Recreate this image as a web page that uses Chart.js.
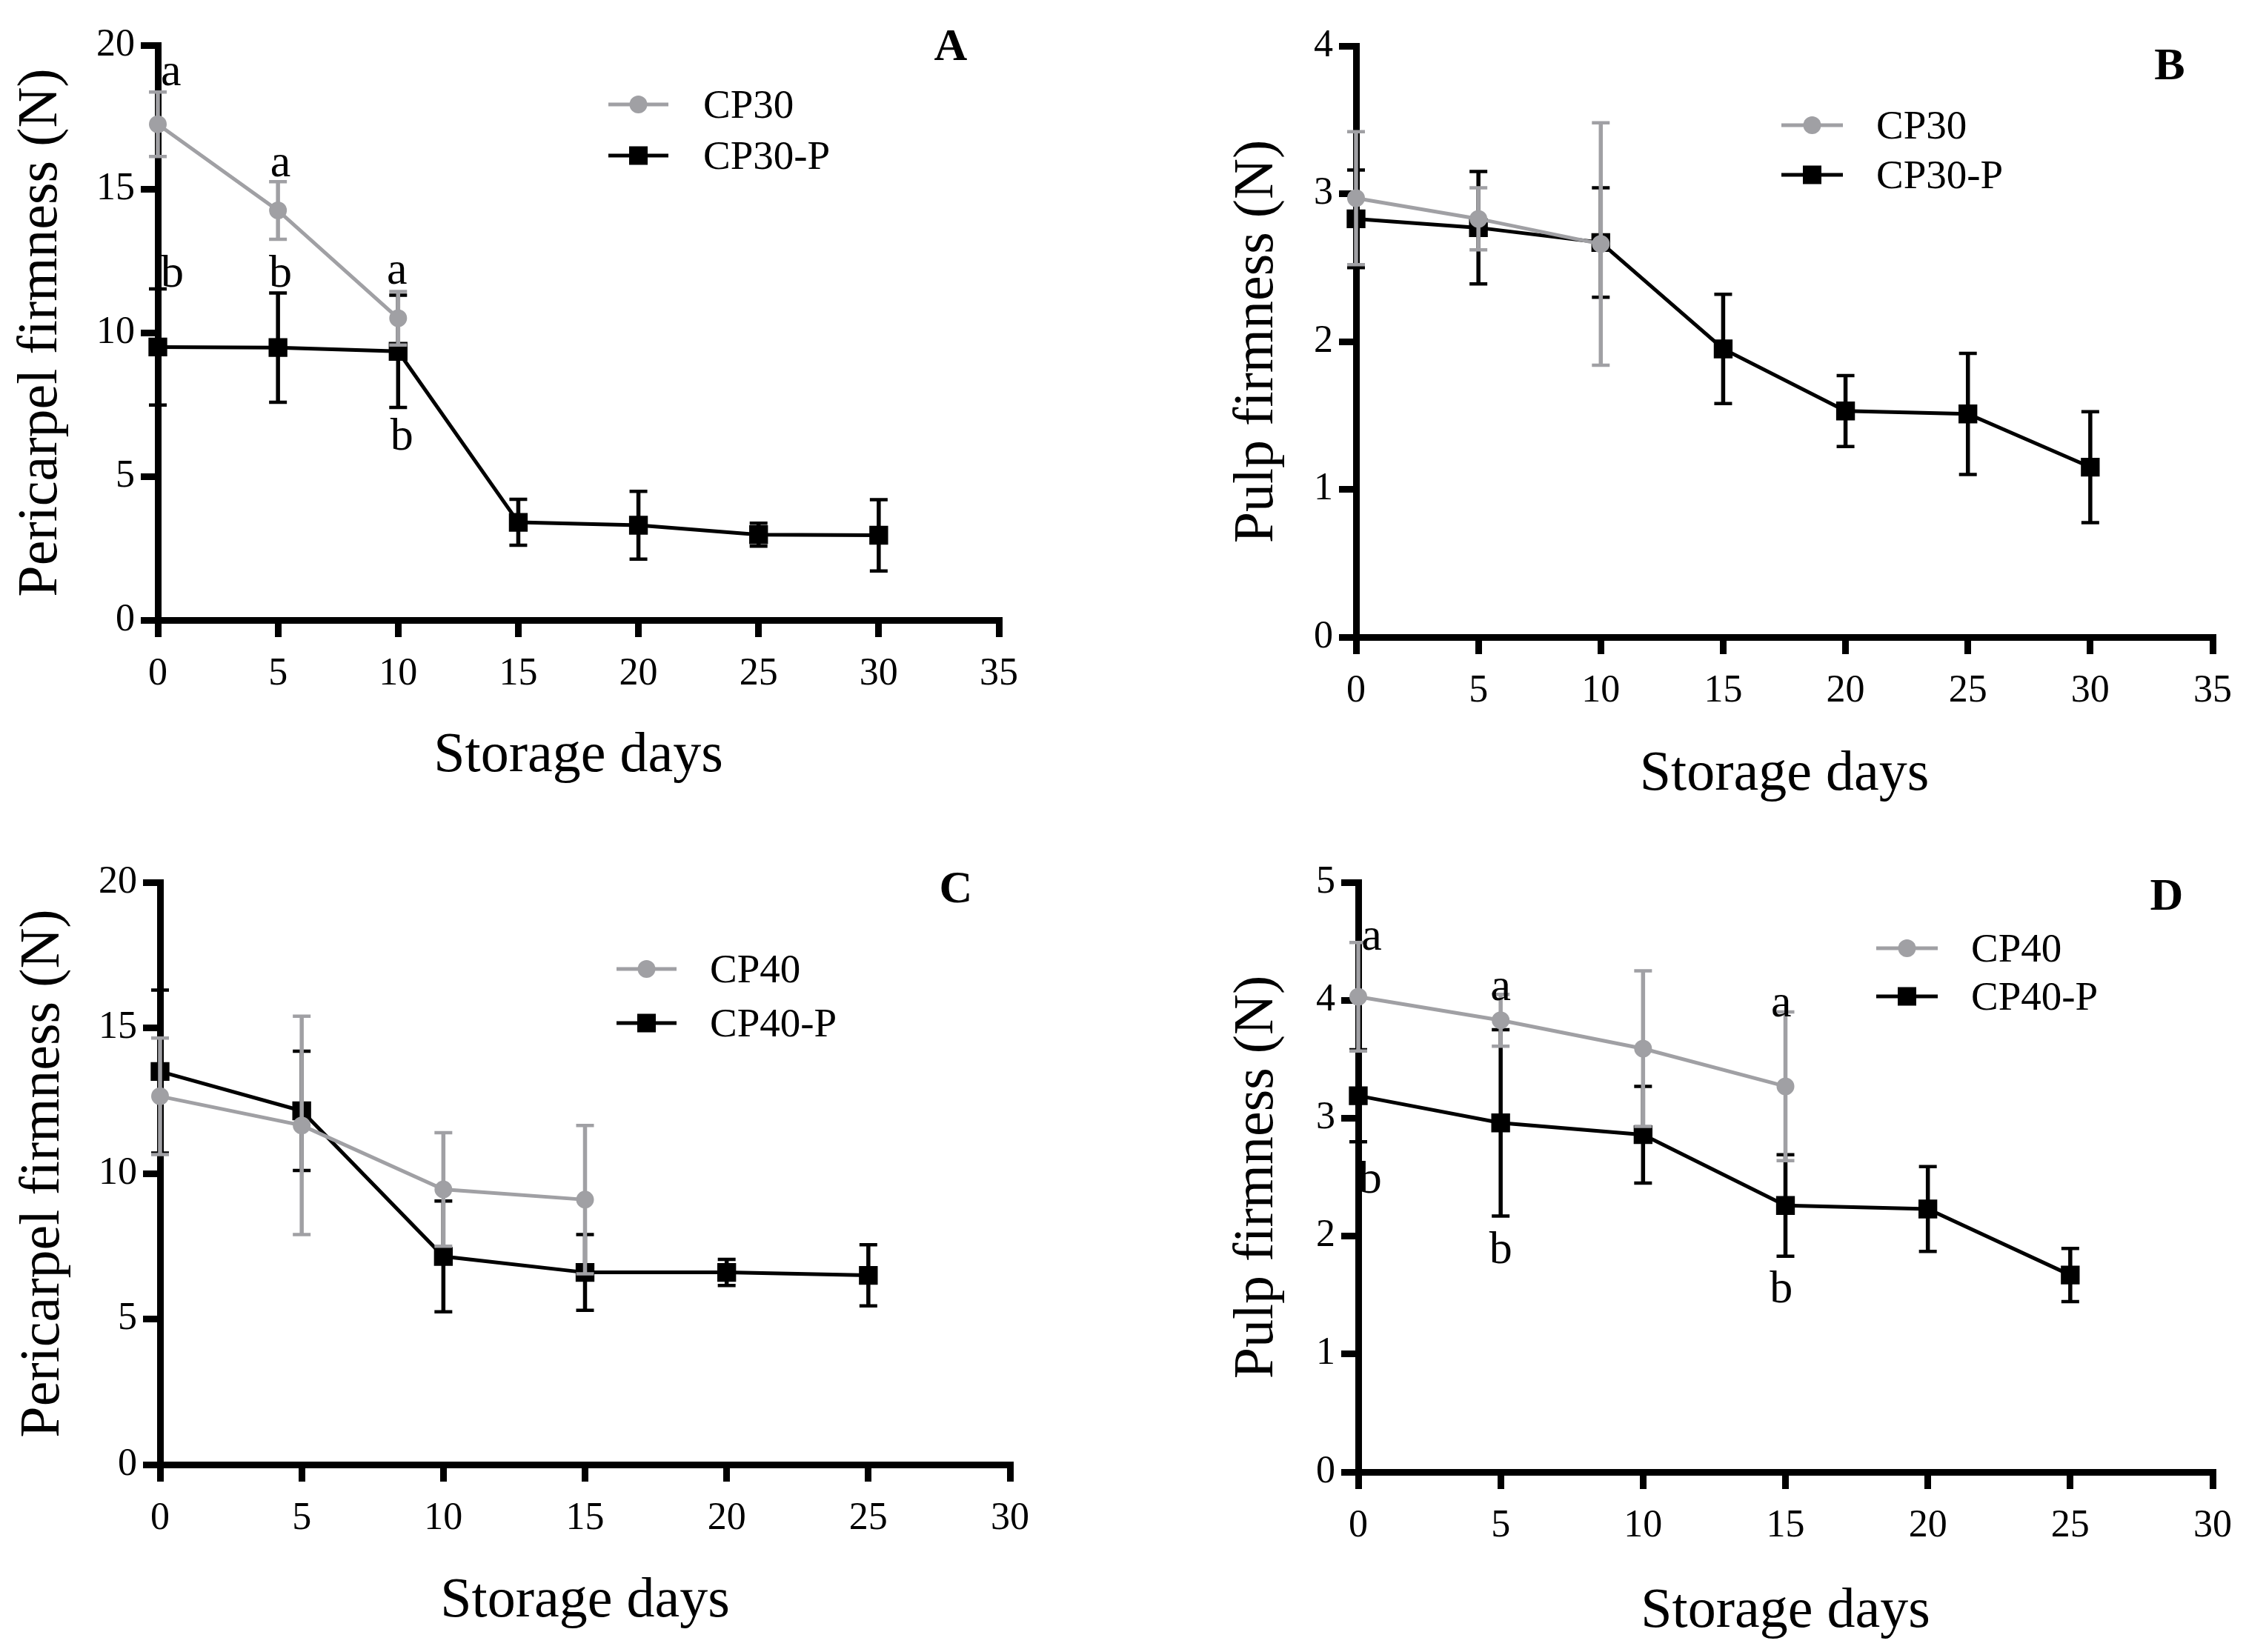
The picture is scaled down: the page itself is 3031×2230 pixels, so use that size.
<!DOCTYPE html>
<html><head><meta charset="utf-8">
<script src="https://cdn.jsdelivr.net/npm/chart.js@4.4.0/dist/chart.umd.min.js"></script>
<style>
html,body{margin:0;padding:0;background:#fff;}
#wrap{position:relative;width:3031px;height:2230px;background:#fff;overflow:hidden;}
canvas{position:absolute;}
</style></head><body>
<div id="wrap">
<canvas id="cA" width="1515" height="1115" style="left:0;top:0"></canvas>
<canvas id="cB" width="1516" height="1115" style="left:1515px;top:0"></canvas>
<canvas id="cC" width="1515" height="1115" style="left:0;top:1115px"></canvas>
<canvas id="cD" width="1516" height="1115" style="left:1515px;top:1115px"></canvas>
</div>
<script>
// ---------- DATA ----------
const days30 = [0, 5, 10, 15, 20, 25, 30];
const days25 = [0, 5, 10, 15, 20, 25];

// Panel A: pericarp firmness, 30 % CP
const cp30A_mean  = [17.25, 14.25, 10.5];
const cp30A_sd    = [1.12, 1.0, 0.93];
const cp30pA_mean = [9.5, 9.48, 9.35, 3.4, 3.3, 2.97, 2.95];
const cp30pA_sd   = [2.02, 1.9, 1.95, 0.8, 1.18, 0.4, 1.24];

// Panel B: pulp firmness, 30 % CP
const cp30B_mean  = [2.97, 2.83, 2.66];
const cp30B_sd    = [0.45, 0.21, 0.82];
const cp30pB_mean = [2.83, 2.77, 2.67, 1.95, 1.53, 1.51, 1.15];
const cp30pB_sd   = [0.33, 0.38, 0.37, 0.37, 0.24, 0.41, 0.375];

// Panel C: pericarp firmness, 40 % CP
const cp40C_mean  = [12.65, 11.65, 9.45, 9.1];
const cp40C_sd    = [2.0, 3.75, 1.95, 2.55];
const cp40pC_mean = [13.5, 12.15, 7.15, 6.6, 6.6, 6.5];
const cp40pC_sd   = [2.8, 2.05, 1.9, 1.3, 0.45, 1.05];

// Panel D: pulp firmness, 40 % CP
const cp40D_mean  = [4.03, 3.83, 3.59, 3.27];
const cp40D_sd    = [0.46, 0.22, 0.66, 0.63];
const cp40pD_mean = [3.19, 2.96, 2.86, 2.26, 2.23, 1.67];
const cp40pD_sd   = [0.39, 0.79, 0.41, 0.43, 0.36, 0.225];

// significance letters (day, value of text baseline)
const annA_text = ['a', 'a', 'a', 'b', 'b', 'b'];
const annA_day  = [0.55, 5.1, 9.95, 0.6, 5.1, 10.15];
const annA_val  = [18.6, 15.45, 11.7, 11.6, 11.6, 5.92];
const annD_text = ['a', 'a', 'a', 'b', 'b', 'b'];
const annD_day  = [0.47, 5.0, 14.85, 0.42, 5.0, 14.85];
const annD_val  = [4.43, 4.0, 3.86, 2.37, 1.77, 1.44];

const xTitle = 'Storage days';
const yTitlePeri = 'Pericarpel firmness (N)';
const yTitlePulp = 'Pulp firmness (N)';

// ---------- STYLE ----------
const GRAY = '#a0a0a4';
const BLACK = '#000000';
const FONT = "'Liberation Serif', 'Times New Roman', serif";

function series(days, mean, sd, label, color, style) {
  const r = style === 'circle' ? 11 : 16.5;
  return {
    label, sd,
    data: mean.map((v, i) => ({x: days[i], y: v})),
    borderColor: color, backgroundColor: color,
    pointBackgroundColor: color, pointBorderColor: color,
    pointStyle: style, pointRadius: r, pointHoverRadius: r,
    pointBorderWidth: 2,
    borderWidth: 5, tension: 0, clip: false, fill: false
  };
}

const errorBars = {
  id: 'errorBars',
  beforeDatasetDraw(chart, args) {
    const ds = chart.data.datasets[args.index];
    if (!ds.sd) return;
    const ys = chart.scales.y, ctx = chart.ctx;
    ctx.save();
    ctx.strokeStyle = ds.borderColor;
    ctx.lineCap = 'butt';
    args.meta.data.forEach((pt, i) => {
      const m = ds.data[i].y, s = ds.sd[i];
      const yT = ys.getPixelForValue(m + s), yB = ys.getPixelForValue(m - s);
      const x = pt.x;
      ctx.lineWidth = 5.5;
      ctx.beginPath(); ctx.moveTo(x, yT); ctx.lineTo(x, yB); ctx.stroke();
      ctx.lineWidth = 4.5;
      ctx.beginPath();
      ctx.moveTo(x - 12, yT); ctx.lineTo(x + 12, yT);
      ctx.moveTo(x - 12, yB); ctx.lineTo(x + 12, yB);
      ctx.stroke();
    });
    ctx.restore();
  }
};

const panelCfg = {
  cA: {letter: 'A', lx: 1283, ly: 65, legX0: 821, legX1: 902, legTextX: 949, legY: [141, 210],
       ann: {text: annA_text, day: annA_day, val: annA_val}},
  cB: {letter: 'B', lx: 1413, ly: 91, legX0: 889, legX1: 972, legTextX: 1017, legY: [169, 236]},
  cC: {letter: 'C', lx: 1290, ly: 87, legX0: 832, legX1: 913, legTextX: 958, legY: [193, 266]},
  cD: {letter: 'D', lx: 1409, ly: 97, legX0: 1017, legX1: 1100, legTextX: 1145, legY: [165, 230],
       ann: {text: annD_text, day: annD_day, val: annD_val}}
};

const panelPlugin = {
  id: 'panelDeco',
  afterDatasetsDraw(chart) {
    const cfg = panelCfg[chart.canvas.id];
    const ctx = chart.ctx;
    ctx.save();
    // legend
    chart.data.datasets.forEach((ds, i) => {
      const y = cfg.legY[i];
      ctx.strokeStyle = ds.borderColor; ctx.lineWidth = 5;
      ctx.beginPath(); ctx.moveTo(cfg.legX0, y); ctx.lineTo(cfg.legX1, y); ctx.stroke();
      const cx = (cfg.legX0 + cfg.legX1) / 2;
      ctx.fillStyle = ds.borderColor;
      if (ds.pointStyle === 'circle') { ctx.beginPath(); ctx.arc(cx, y, 12, 0, 2 * Math.PI); ctx.fill(); }
      else { ctx.fillRect(cx - 12.5, y - 12.5, 25, 25); }
      ctx.fillStyle = '#000';
      ctx.font = `55px ${FONT}`;
      ctx.textAlign = 'left'; ctx.textBaseline = 'middle';
      ctx.fillText(ds.label, cfg.legTextX, y + 4);
    });
    // panel letter
    ctx.fillStyle = '#000';
    ctx.font = `bold 62px ${FONT}`;
    ctx.textAlign = 'center'; ctx.textBaseline = 'middle';
    ctx.fillText(cfg.letter, cfg.lx, cfg.ly);
    // significance letters
    if (cfg.ann) {
      const xs = chart.scales.x, ys = chart.scales.y;
      ctx.font = `62px ${FONT}`;
      ctx.textAlign = 'center'; ctx.textBaseline = 'alphabetic';
      cfg.ann.text.forEach((t, i) => {
        ctx.fillText(t, xs.getPixelForValue(cfg.ann.day[i]), ys.getPixelForValue(cfg.ann.val[i]));
      });
    }
    ctx.restore();
  }
};

function makeChart(id, datasets, L) {
  const axisCommon = {
    type: 'linear',
    border: {display: true, color: BLACK, width: 9},
    grid: {display: true, drawOnChartArea: false, drawTicks: true, tickLength: 23, lineWidth: 9, tickWidth: 9, color: BLACK, tickColor: BLACK},
  };
  new Chart(document.getElementById(id), {
    type: 'line',
    data: {datasets},
    options: {
      responsive: false, animation: false, devicePixelRatio: 1, events: [],
      layout: {padding: {left: 0, top: L.top, right: L.right, bottom: 0}},
      plugins: {legend: {display: false}, tooltip: {enabled: false}},
      scales: {
        x: Object.assign({}, axisCommon, {
          position: 'bottom', min: 0, max: L.xmax,
          ticks: {stepSize: 5, color: BLACK, padding: 19, font: {family: FONT, size: 52}, maxRotation: 0, autoSkip: false},
          title: {display: true, text: xTitle, color: BLACK, font: {family: FONT, size: 76}, padding: {top: 0, bottom: L.xtPad}},
          afterFit: s => { s.height = L.xh; }
        }),
        y: Object.assign({}, axisCommon, {
          position: 'left', min: 0, max: L.ymax,
          ticks: {stepSize: L.ystep, color: BLACK, padding: 8, font: {family: FONT, size: 52}},
          title: {display: true, text: L.ytitle, color: BLACK, font: {family: FONT, size: 76}, padding: {top: L.ytPad, bottom: 0}},
          afterFit: s => { s.width = L.yw; }
        })
      }
    },
    plugins: [errorBars, panelPlugin]
  });
}

makeChart('cA', [
  series(days30, cp30A_mean, cp30A_sd, 'CP30', GRAY, 'circle'),
  series(days30, cp30pA_mean, cp30pA_sd, 'CP30-P', BLACK, 'rect')
], {top: 61, right: 167, xh: 278, yw: 213, xmax: 35, ymax: 20, ystep: 5, ytitle: yTitlePeri, xtPad: 48, ytPad: 10});

makeChart('cB', [
  series(days30, cp30B_mean, cp30B_sd, 'CP30', GRAY, 'circle'),
  series(days30, cp30pB_mean, cp30pB_sd, 'CP30-P', BLACK, 'rect')
], {top: 62, right: 41, xh: 255, yw: 315, xmax: 35, ymax: 4, ystep: 1, ytitle: yTitlePulp, xtPad: 23, ytPad: 136});

makeChart('cC', [
  series(days25, cp40C_mean, cp40C_sd, 'CP40', GRAY, 'circle'),
  series(days25, cp40pC_mean, cp40pC_sd, 'CP40-P', BLACK, 'rect')
], {top: 76, right: 152, xh: 253, yw: 216, xmax: 30, ymax: 20, ystep: 5, ytitle: yTitlePeri, xtPad: 22, ytPad: 13});

makeChart('cD', [
  series(days25, cp40D_mean, cp40D_sd, 'CP40', GRAY, 'circle'),
  series(days25, cp40pD_mean, cp40pD_sd, 'CP40-P', BLACK, 'rect')
], {top: 76, right: 41, xh: 243, yw: 318, xmax: 30, ymax: 5, ystep: 1, ytitle: yTitlePulp, xtPad: 8, ytPad: 136});
</script>
</body></html>
